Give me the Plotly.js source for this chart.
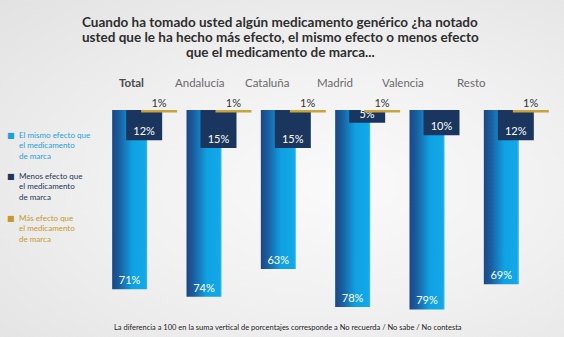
<!DOCTYPE html>
<html>
<head>
<meta charset="utf-8">
<script src="https://cdn.plot.ly/plotly-3.0.1.min.js"></script>
<style>
html,body{margin:0;padding:0;}
body{width:564px;height:337px;overflow:hidden;
background: radial-gradient(ellipse at 60% 55%, #fafafa 0%, #f1f1f1 45%, #e2e2e2 100%);}
#chart{width:564px;height:337px;}
</style>
</head>
<body>
<div id="chart"></div>
<script>
// ---- data ----
var regions = ['Total', 'Andalucía', 'Cataluña', 'Madrid', 'Valencia', 'Resto'];
var mismoEfecto = [71, 74, 63, 78, 79, 69];
var menosEfecto = [12, 15, 15, 5, 10, 12];
var masEfecto = [1, 1, 1, 1, null, 1];
var seriesNames = ['El mismo efecto que el medicamento de marca',
                   'Menos efecto que el medicamento de marca',
                   'Más efecto que el medicamento de marca'];
var legendLines = [['El mismo efecto que', 'el medicamento', 'de marca'],
                   ['Menos efecto que', 'el medicamento', 'de marca'],
                   ['Más efecto que', 'el medicamento', 'de marca']];
var titleLines = ['Cuando ha tomado usted algún medicamento genérico ¿ha notado',
                  'usted que le ha hecho más efecto, el mismo efecto o menos efecto',
                  'que el medicamento de marca...'];
var footnote = 'La diferencia a 100 en la suma vertical de porcentajes corresponde a No recuerda / No sabe / No contesta';

// ---- style ----
var W = 564, H = 337, M = {l: 107, r: 11, t: 110, b: 25};
var PW = W - M.l - M.r, PH = H - M.t - M.b;
var colLight = '#12a3e4', colNavy = '#1a355e', colGold = '#c8a43c';
var legendColors = ['#1f9fdb', '#1f3559', '#c49a2c'];
var FONT = 'Lato, "Open Sans", sans-serif';
var xs = regions.map(function (_, i) { return i; });
var pct = function (v) { return v == null ? '' : v + '%'; };

function P(px, py) { return {x: (px - M.l) / PW, y: (H - M.b - py) / PH}; }

var traces = [
  {type: 'bar', name: seriesNames[0], x: xs, y: mismoEfecto, offset: -0.4305, width: 0.471,
   marker: {color: colLight, line: {width: 0}}, text: mismoEfecto.map(pct),
   textposition: 'inside', insidetextanchor: 'end', constraintext: 'none',
   textfont: {family: FONT, size: 11, color: '#ffffff'}, hoverinfo: 'name+y'},
  {type: 'bar', name: seriesNames[1], x: xs, y: menosEfecto, offset: -0.242, width: 0.484,
   marker: {color: colNavy, line: {width: 0}}, text: menosEfecto.map(pct),
   textposition: 'inside', insidetextanchor: 'end', constraintext: 'none',
   textfont: {family: FONT, size: 11, color: '#ffffff'}, hoverinfo: 'name+y'},
  {type: 'bar', name: seriesNames[2], x: xs, y: masEfecto, offset: -0.0404, width: 0.484,
   marker: {color: colGold, line: {width: 0}}, hoverinfo: 'name+y', textposition: 'none'},
  {type: 'scatter', mode: 'text', x: xs.map(function (i) { return i + 0.2; }),
   y: masEfecto.map(function (v) { return v == null ? null : 0; }),
   text: masEfecto.map(pct), textposition: 'top center', cliponaxis: false,
   textfont: {family: FONT, size: 11, color: '#333333'}, hoverinfo: 'skip', showlegend: false}
];

var ann = [];
// title
titleLines.forEach(function (t, k) {
  var p = P(280, 22 + 15 * k);
  ann.push({xref: 'paper', yref: 'paper', x: p.x, y: p.y, xanchor: 'center', yanchor: 'middle',
    text: '<b>' + t + '</b>', showarrow: false, borderpad: 0,
    font: {family: FONT, size: 13.5, color: '#2e2e2e'}});
});
// column headers
regions.forEach(function (r, i) {
  var p = P(131 + 68 * i, 82);
  ann.push({xref: 'paper', yref: 'paper', x: p.x, y: p.y, xanchor: 'center', yanchor: 'middle',
    text: i === 0 ? '<b>' + r + '</b>' : r, showarrow: false,
    font: {family: FONT, size: 11.5, color: i === 0 ? '#4a4a4a' : '#6a6a6a'}});
});
// legend
var entryTop = [135, 176, 218];
legendLines.forEach(function (lines, k) {
  var ps = P(11, entryTop[k]);
  ann.push({xref: 'paper', yref: 'paper', x: ps.x, y: ps.y, xanchor: 'center', yanchor: 'middle',
    text: '■', showarrow: false, borderpad: 0, font: {family: 'DejaVu Sans', size: 8, color: legendColors[k]}});
  var p = P(18, entryTop[k] - 6);
  ann.push({xref: 'paper', yref: 'paper', x: p.x, y: p.y, xanchor: 'left', yanchor: 'top', align: 'left',
    text: lines.join('<br>'), showarrow: false, borderpad: 0,
    font: {family: FONT, size: 8, color: legendColors[k]}});
});
// footnote
var pf = P(112, 327);
ann.push({xref: 'paper', yref: 'paper', x: pf.x, y: pf.y, xanchor: 'left', yanchor: 'middle',
  text: footnote, showarrow: false, font: {family: FONT, size: 7.5, color: '#222222'}});

var layout = {
  width: W, height: H, margin: M,
  paper_bgcolor: 'rgba(0,0,0,0)', plot_bgcolor: 'rgba(0,0,0,0)',
  barmode: 'overlay', showlegend: false,
  xaxis: {range: [-0.5, 5.5], visible: false, fixedrange: true},
  yaxis: {range: [80, 0], visible: false, fixedrange: true},
  annotations: ann,
  font: {family: FONT}
};

Plotly.newPlot('chart', traces, layout, {displayModeBar: false, staticPlot: true}).then(function (gd) {
  // horizontal gradient on the light-blue bars
  var svg = gd.querySelector('svg.main-svg');
  var NS = 'http://www.w3.org/2000/svg';
  var defs = svg.querySelector('defs') || svg.insertBefore(document.createElementNS(NS, 'defs'), svg.firstChild);
  var g = document.createElementNS(NS, 'linearGradient');
  g.setAttribute('id', 'lightGrad');
  g.setAttribute('x1', '0'); g.setAttribute('x2', '1'); g.setAttribute('y1', '0'); g.setAttribute('y2', '0');
  [[0, '#1d4683'], [0.2, '#1a5d9e'], [0.58, '#0fa2e3'], [0.95, '#12a8e8'], [1, '#3dbcf0']].forEach(function (s) {
    var st = document.createElementNS(NS, 'stop');
    st.setAttribute('offset', s[0]); st.setAttribute('stop-color', s[1]);
    g.appendChild(st);
  });
  defs.appendChild(g);
  var tr = gd.querySelectorAll('.barlayer .trace')[0];
  tr.querySelectorAll('path').forEach(function (p) { p.style.fill = 'url(#lightGrad)'; });
});
</script>
</body>
</html>
